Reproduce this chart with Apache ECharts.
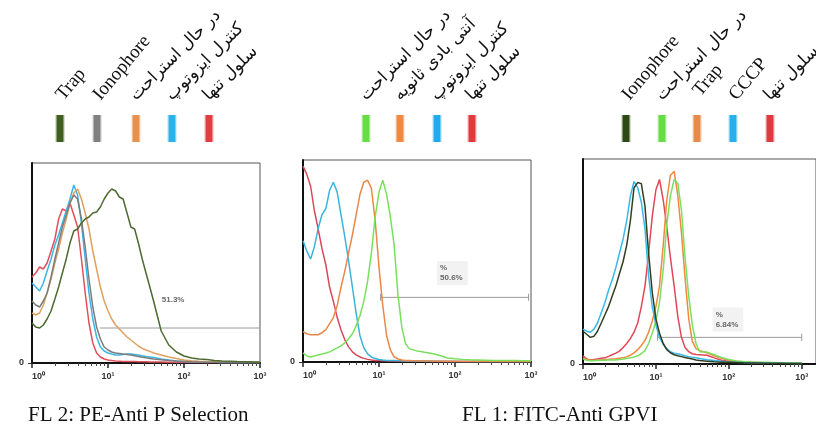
<!DOCTYPE html>
<html>
<head>
<meta charset="utf-8">
<script src="https://cdn.jsdelivr.net/npm/echarts@6/dist/echarts.min.js"></script>
<style>html,body{margin:0;padding:0;background:#fff}#c{width:816px;height:427px}</style>
</head>
<body>
<div id="c"></div>
<script>
// fluorescence channel grid (log spaced)
const fl = [1,1.12,1.26,1.41,1.58,1.78,2.0,2.24,2.51,2.82, 3.16,3.55,3.98,4.47,5.01,5.62,6.31,7.08,7.94,8.91,
  10,11.2,12.6,14.1,15.8,17.8,20,22.4,25.1,28.2, 31.6,35.5,39.8, 50.1,63.1,79.4,100,126,158,200,251,316,398,501,631,794,1000];
const majorTicks = [1,10,100,1000];
const minorTicks = [2,3,4,5,6,7,8,9,20,30,40,50,60,70,80,90,200,300,400,500,600,700,800,900];
const xTickLabels = ['10⁰','10¹','10²','10³'];

// Panel 1: FL 2 PE-Anti P Selection
const p1Names = ['Trap','Ionophore','در حال استراحت','کنترل ایزوتوپ','سلول تنها'];
const p1Trap = [20,18,17.5,19,22,26,32,38,45,52, 60,66,67,70,72,73,75,75.5,78,82, 85,87,86,83,82,75,68,67,60,52, 45,38,31, 16,9,5.5,3.5,2.5,2,1.8,1.3,1,0.9,0.7,0.6,0.5,0.4];
const p1Iono = [31,29,28,31,35,43,52,60,68,74, 80,84,82,72,58,42,28,18,12,8, 6.5,5.5,5,4.8,4.5,4.3,4,3.6,3.2,2.9, 2.6,2.3,2, 1.6,1.2,1,0.8,0.6,0.5,0.4,0.4,0.3,0.3,0.3,0.3,0.3,0.3];
const p1Rest = [25,24,25,29,35,42,50,57,65,72, 80,85,87,82,75,67,56,47,38,31, 26,22,19,17,15,13,11.5,10,8.5,7.3, 6.5,5.8,5, 4,3,2.2,1.5,1.1,0.9,0.7,0.6,0.5,0.5,0.4,0.4,0.4,0.4];
const p1Iso = [40,38,36,40,46,52,59,64,70,76, 82,89,84,70,52,35,22,13,8,6, 5,4.5,4,4,4.2,4.5,4.5,4.3,4,3.6, 3.3,3,2.7, 2,1.5,1,0.8,0.6,0.5,0.4,0.4,0.3,0.3,0.3,0.3,0.3,0.3];
const p1Cell = [43,45,48,47,50,56,62,72,77,76, 80,74,68,52,35,20,10,5,3,2, 1.5,1.2,1,0.9,0.8,0.8,0.7,0.7,0.6,0.6, 0.6,0.5,0.5, 0.5,0.4,0.4,0.4,0.3,0.3,0.3,0.3,0.3,0.3,0.3,0.3,0.3,0.3];
const p1Gate = [[7.8,17.5],[1000,17.5]];
const p1Stat = '51.3%';

// Panel 2: FL 1 FITC-Anti GPVI
const p2Names = ['در حال استراحت','آنتی بادی ثانویه','کنترل ایزوتوپ','سلول تنها'];
const p2Rest = [4.5,3,2.5,3,3.5,4,4.5,5,6,7, 8,9.5,11.5,14,18,23,30,40,54,72, 84,90,83,72,58,33,17,9,6.5,6, 5.5,5.2,4.8, 4.2,3.2,2,1.6,1.3,1.1,1,0.9,0.8,0.8,0.7,0.7,0.6,0.6];
const p2Sec = [15,14,13.5,13.5,13.5,14.5,16,19,22,28, 37,45,54,63,73,83,89,90,86,70, 47,28,13,6,2.5,1.5,1,0.8,0.7,0.6, 0.6,0.5,0.5, 0.5,0.4,0.4,0.4,0.3,0.3,0.3,0.3,0.3,0.3,0.3,0.3,0.3,0.3];
const p2Iso = [60,55,51,57,66,73,76,85,89,84, 73,62,50,37,24,13,7,4,2.5,1.7, 1.2,1,0.8,0.7,0.7,0.6,0.6,0.5,0.5,0.5, 0.5,0.4,0.4, 0.4,0.4,0.3,0.3,0.3,0.3,0.3,0.3,0.3,0.3,0.3,0.3,0.3,0.3];
const p2Cell = [97,93,87,75,66,56,48,37,30,22, 16,11,7.5,5,3.5,2.5,1.8,1.3,1,0.8, 0.7,0.6,0.6,0.5,0.5,0.5,0.5,0.4,0.4,0.4, 0.4,0.4,0.4, 0.3,0.3,0.3,0.3,0.3,0.3,0.3,0.3,0.3,0.3,0.3,0.3,0.3,0.3];
const p2Gate = [[10.5,32],[930,32]];
const p2Stat = '%\n50.6%';

// Panel 3
const p3Names = ['Ionophore','در حال استراحت','Trap','CCCP','سلول تنها'];
const p3Iono = [16,14.5,13,13.5,16,20,24,28,33,38, 44,50,58,70,86,88.5,88,77,54,35, 22,15,10,7,5.5,4.5,4,3.6,3.2,2.8, 2.4,2,1.7, 1.4,1.1,0.9,0.8,0.7,0.6,0.5,0.5,0.4,0.4,0.4,0.3,0.3,0.3];
const p3Rest = [2.5,1.8,1.6,1.6,1.7,1.8,1.8,1.9,2,2, 2.2,2.4,2.7,3,3.4,4,5,6.5,10,15, 21,30,46,68,82,90,88,75,52,33, 19,10,6, 5.8,4.5,3.2,2.2,1.5,1.2,1,0.9,0.8,0.7,0.6,0.6,0.5,0.5];
const p3Trap = [3,2.2,1.8,1.8,2,2,2.2,2.3,2.5,2.6, 2.8,3,3.6,4.3,5.4,7,9,11.5,15.5,21, 28,38,58,80,92,94,82,64,42,22, 11,7.5,6.5, 5.5,4,2.8,1.8,1.3,1,0.8,0.7,0.6,0.6,0.5,0.5,0.4,0.4];
const p3Cccp = [17,16,15.5,17,20,25,30,36,41,47, 54,61,70,82,89,86,79,66,43,28, 19,13,9.5,7.5,6,5.3,5,4.5,4,3.6, 3.3,3,2.7, 2.1,1.7,1.3,1,0.8,0.7,0.6,0.5,0.5,0.4,0.4,0.4,0.3,0.3];
const p3Cell = [4,2.5,2,2.2,2.5,2.8,3,3.7,4.5,5.3, 6.3,8,10,12.5,15.5,20,28,38,54,72, 85,90,80,67,52,38,23,13,8,6, 5,4.6,4.5, 4.3,3,1.8,1.3,1,0.8,0.7,0.6,0.5,0.5,0.4,0.4,0.4,0.3];
const p3Gate = [[10.5,13],[1000,13]];
const p3Stat = '%\n6.84%';

const captions = ['FL 2: PE-Anti P Selection','FL 1: FITC-Anti GPVI'];

// ---------- layout & style ----------
const panels = [
  { grid:{left:32, top:163, width:228, height:200}, max:1000,
    curves:[[p1Cell,'#e0505c'],[p1Iso,'#3ab6e2'],[p1Rest,'#dfa062'],[p1Iono,'#7c7c7c'],[p1Trap,'#4d6a30']],
    gate:p1Gate, gateEnds:false, stat:p1Stat, statPos:[51,31.5], statBg:false,
    names:p1Names, sw:['#3f5f1e','#808080','#e8914e','#2ab2ea','#e03e40'], swX:[60,97,136,172,209], dy:[0,0,0,0,0] },
  { grid:{left:303, top:160, width:228, height:202}, max:1000,
    curves:[[p2Cell,'#d9485a'],[p2Iso,'#3ab4dc'],[p2Sec,'#e8884a'],[p2Rest,'#78e05a']],
    gate:p2Gate, gateEnds:true, stat:p2Stat, statPos:[58,44], statBg:true,
    names:p2Names, sw:['#66dd44','#f08a40','#22aaf0','#e03a3a'], swX:[366,400,437,472], dy:[0,0,0,0] },
  { grid:{left:583, top:159, width:245, height:205}, max:1570,
    curves:[[p3Cell,'#e04858'],[p3Trap,'#f08840'],[p3Rest,'#7ae060'],[p3Cccp,'#3ab8e6'],[p3Iono,'#2f3f1f']],
    gate:p3Gate, gateEnds:true, stat:p3Stat, statPos:[60,21.7], statBg:true,
    names:p3Names, sw:['#2e4a14','#66dd44','#e88a48','#28b0ec','#e03a40'], swX:[626,662,697,733,770], dy:[0,0,-4,0,0] }
];

const grid = [], xAxis = [], yAxis = [], series = [], graphic = [];
const latin = s => /^[A-Za-z ]+$/.test(s);

panels.forEach((p, i) => {
  grid.push(Object.assign({show:true, borderColor:'#555', borderWidth:1, backgroundColor:'#fff'}, p.grid));
  xAxis.push({
    type:'log', gridIndex:i, min:1, max:p.max, position:'bottom',
    axisLine:{show:true, onZero:false, lineStyle:{color:'#111', width:2}},
    axisTick:{show:true, customValues:majorTicks, length:5, lineStyle:{color:'#222', width:1.5}},
    axisLabel:{show:true, customValues:majorTicks, margin:9, fontSize:9, fontWeight:'bold', color:'#333',
      fontFamily:'"Liberation Sans", Arial, sans-serif', alignMinLabel:'left',
      formatter: v => xTickLabels[Math.round(Math.log10(v))] || ''},
    splitLine:{show:false}
  });
  xAxis.push({
    type:'log', gridIndex:i, min:1, max:p.max, position:'bottom',
    axisLine:{show:false}, axisLabel:{show:false}, splitLine:{show:false},
    axisTick:{show:true, customValues:minorTicks, length:3, lineStyle:{color:'#444', width:1}}
  });
  yAxis.push({
    type:'value', gridIndex:i, min:0, max:100,
    axisLine:{show:true, lineStyle:{color:'#111', width:2}},
    axisTick:{show:true, customValues:[0], length:4, lineStyle:{color:'#333'}},
    axisLabel:{show:true, customValues:[0], margin:8, fontSize:9, fontWeight:'bold', color:'#333',
      fontFamily:'"Liberation Sans", Arial, sans-serif'},
    splitLine:{show:false}
  });
  const xi = i * 2;
  p.curves.forEach(([ys, col]) => {
    series.push({
      type:'line', xAxisIndex:xi, yAxisIndex:i, symbol:'none', showSymbol:false, smooth:false,
      lineStyle:{color:col, width:1.5}, z:3,
      data: fl.map((x, k) => [x, ys[k]])
    });
  });
  series.push({
    type:'line', xAxisIndex:xi, yAxisIndex:i, data:p.gate, z:2,
    symbol: p.gateEnds ? 'rect' : 'none', symbolSize:[1,7], showSymbol:p.gateEnds,
    itemStyle:{color:'#999'}, lineStyle:{color:'#9a9a9a', width:1}
  });
  series.push({
    type:'scatter', xAxisIndex:xi, yAxisIndex:i, data:[p.statPos], symbolSize:0, z:5,
    label:{show:true, position:'right', distance:0, formatter:p.stat, align:'left',
      fontSize:8, fontWeight:'bold', color:'#444', lineHeight:10,
      fontFamily:'"Liberation Sans", Arial, sans-serif',
      backgroundColor: p.statBg ? '#efefef' : 'transparent', padding: p.statBg ? [2,5,2,3] : 0}
  });
  // legend swatches + rotated labels
  p.names.forEach((nm, j) => {
    const cx = p.swX[j], c = p.sw[j], lat = latin(nm);
    graphic.push({
      type:'rect', shape:{x:cx-5, y:115, width:10, height:27},
      style:{fill:{type:'linear', x:0, y:0, x2:1, y2:0,
        colorStops:[{offset:0,color:'#ffffff'},{offset:0.25,color:c},{offset:0.75,color:c},{offset:1,color:'#ffffff'}]}}
    });
    graphic.push({
      type:'text', x: lat ? cx+7 : cx+3, y:104 + p.dy[j], rotation:(lat ? 50 : 45)*Math.PI/180,
      style:{text:nm, fill:'#111', textAlign:'left', textVerticalAlign:'bottom',
        font: lat ? '19px "Liberation Serif", serif' : '17px "DejaVu Sans", sans-serif'}
    });
  });
});

graphic.push({type:'text', x:28, y:415, style:{text:captions[0], fill:'#111', textVerticalAlign:'middle', font:'21px "Liberation Serif", serif'}});
graphic.push({type:'text', x:462, y:415, style:{text:captions[1], fill:'#111', textVerticalAlign:'middle', font:'21px "Liberation Serif", serif'}});

const chart = echarts.init(document.getElementById('c'));
chart.setOption({animation:false, backgroundColor:'#fff', grid, xAxis, yAxis, series, graphic});
</script>
</body>
</html>
